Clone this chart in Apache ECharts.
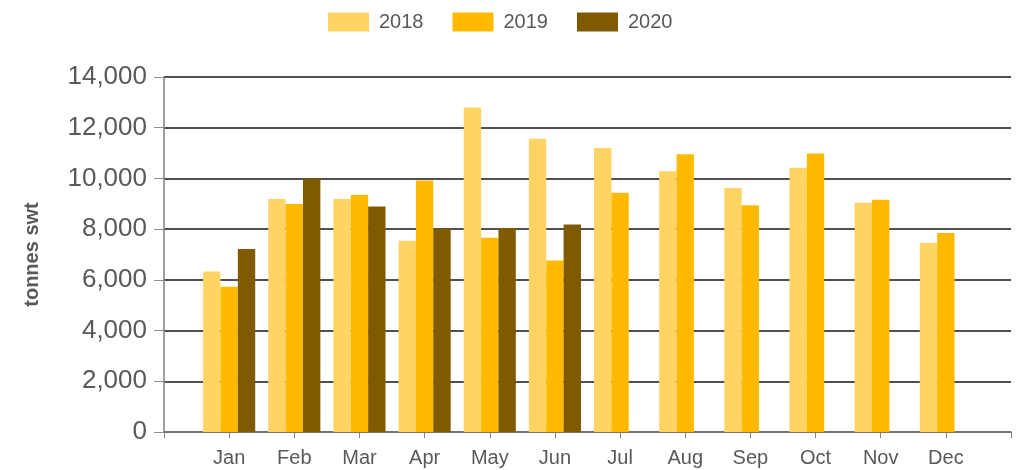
<!DOCTYPE html>
<html>
<head>
<meta charset="utf-8">
<script src="https://cdn.jsdelivr.net/npm/echarts@6/dist/echarts.min.js"></script>
<style>
html,body{margin:0;padding:0;background:#fff;}
#c{width:1022px;height:470px;}
</style>
</head>
<body>
<div id="c"></div>
<script>
const months = ['Jan','Feb','Mar','Apr','May','Jun','Jul','Aug','Sep','Oct','Nov','Dec'];
const s2018 = [6330, 9190, 9190, 7540, 12800, 11560, 11200, 10280, 9620, 10420, 9040, 7450];
const s2019 = [5730, 8990, 9350, 9920, 7660, 6760, 9440, 10950, 8940, 10980, 9160, 7850];
const s2020 = [7220, 9990, 8890, 8020, 8050, 8180, '-', '-', '-', '-', '-', '-'];
const yTicks = [0, 2000, 4000, 6000, 8000, 10000, 12000, 14000];

const pad = a => ['-'].concat(a, ['-']);
const cats = [''].concat(months, ['']);
const font = 'Liberation Sans, Arial, sans-serif';
const grey = '#595959';

const chart = echarts.init(document.getElementById('c'));
chart.setOption({
  animation: false,
  textStyle: {fontFamily: font},
  legend: {
    top: 7, left: 323,
    icon: 'rect',
    itemWidth: 41, itemHeight: 19, itemGap: 29,
    textStyle: {fontSize: 20, color: grey, fontFamily: font, padding: [0, 0, 0, 5]},
    data: ['2018','2019','2020']
  },
  grid: {left: 164, right: 11, top: 77, bottom: 38},
  xAxis: {
    type: 'category', data: cats, boundaryGap: false,
    axisLine: {lineStyle: {color: '#7f7f7f', width: 1.5}},
    axisTick: {show: true, length: 6, interval: 0, lineStyle: {color: '#7f7f7f'}},
    axisLabel: {fontSize: 20, color: grey, margin: 16, interval: 0, fontFamily: font}
  },
  yAxis: {
    type: 'value', min: yTicks[0], max: yTicks[yTicks.length-1], interval: 2000,
    name: 'tonnes swt', nameLocation: 'middle', nameGap: 122,
    nameTextStyle: {fontSize: 20, fontWeight: 'bold', color: grey, fontFamily: font},
    axisLine: {show: true, lineStyle: {color: '#7f7f7f', width: 1.5}},
    axisTick: {show: true, length: 10, lineStyle: {color: '#8c8c8c'}},
    axisLabel: {fontSize: 26, color: grey, margin: 17, fontFamily: font,
      formatter: v => v.toLocaleString('en-US')},
    splitLine: {show: true, lineStyle: {color: '#505050', width: 1.8}}
  },
  series: [
    {name: '2018', type: 'bar', data: pad(s2018), barGap: 0, barCategoryGap: '20%', itemStyle: {color: '#FFD464'}},
    {name: '2019', type: 'bar', data: pad(s2019), barGap: 0, barCategoryGap: '20%', itemStyle: {color: '#FFBA00'}},
    {name: '2020', type: 'bar', data: pad(s2020), barGap: 0, barCategoryGap: '20%', itemStyle: {color: '#7F5A00'}}
  ]
});
</script>
</body>
</html>
